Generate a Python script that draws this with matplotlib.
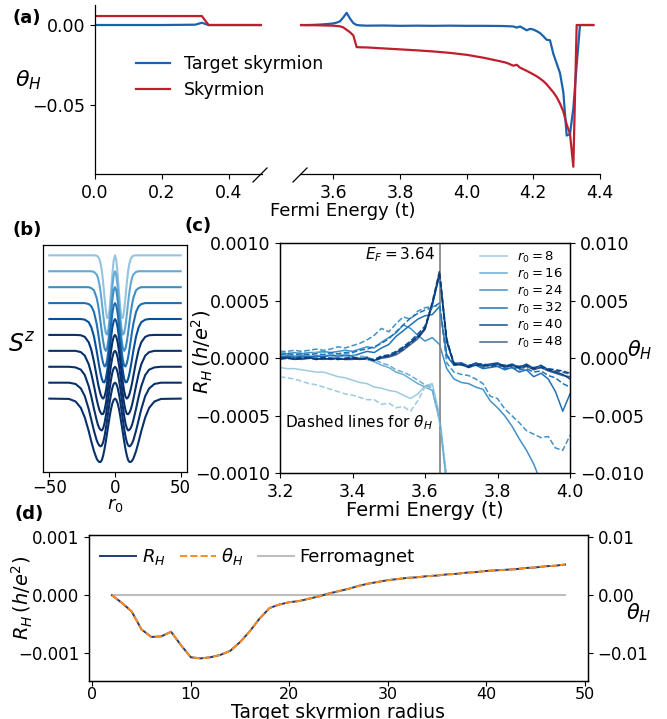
import numpy as np
import matplotlib.pyplot as plt
from matplotlib.lines import Line2D

W, H = 667, 719
plt.rcParams['font.size'] = 12.5
plt.rcParams['mathtext.fontset'] = 'dejavusans'
plt.rcParams['axes.linewidth'] = 0.9

# ---------------- (a) Hall angle vs Fermi energy ----------------
ef_low = [0.0, 0.1, 0.2, 0.3, 0.31, 0.32, 0.33, 0.34, 0.35, 0.4, 0.5]
theta_target_low = [0.0, 0.0, 0.0, 0.0002, 0.0008, 0.0014, 0.0007, 0.0, 0.0, 0.0, 0.0]
theta_skyrm_low = [0.0056, 0.0056, 0.0056, 0.0056, 0.0056, 0.0056, 0.0028, 0.0, 0.0, 0.0, 0.0]

ef_high = [3.50, 3.52, 3.54, 3.56, 3.58, 3.60, 3.61, 3.62, 3.63, 3.64,
           3.65, 3.66, 3.67, 3.68, 3.70, 3.75, 3.80, 3.85, 3.90, 3.95,
           4.00, 4.05, 4.10, 4.12, 4.14, 4.15, 4.16, 4.17, 4.18, 4.19,
           4.20, 4.21, 4.22, 4.23, 4.24, 4.25, 4.26, 4.27, 4.28, 4.29,
           4.30, 4.31, 4.32, 4.33, 4.34, 4.35, 4.36, 4.38]
# values in units of 1e-3
theta_target_high = np.array([
    0.0, 0.0, 0.1, 0.3, 0.6, 1.0, 1.5, 2.3, 4.8, 7.6,
    4.0, 1.2, 0.0, -0.2, -0.4, -0.3, -0.5, -0.4, -0.5, -0.4,
    -0.5, -0.5, -0.6, -0.7, -0.9, -1.6, -0.9, -2.0, -3.3, -2.4,
    -2.8, -3.8, -5.0, -7.0, -9.2, -9.5, -18.0, -24.0, -30.0, -42.0,
    -69.0, -68.0, -52.0, -25.0, 0.0, 0.0, 0.0, 0.0]) * 1e-3
theta_skyrm_high = np.array([
    0.0, -0.1, -0.1, -0.2, -0.3, -0.4, -0.6, -0.8, -1.5, -3.0,
    -4.5, -6.5, -13.8, -13.9, -14.0, -14.6, -15.2, -15.8, -16.5, -17.4,
    -18.6, -20.4, -22.6, -23.6, -25.4, -24.8, -26.6, -27.6, -28.6, -29.7,
    -30.8, -32.0, -33.4, -35.0, -37.0, -39.5, -42.0, -45.0, -49.0, -54.0,
    -62.0, -68.0, -88.5, 0.0, 0.0, 0.0, 0.0, 0.0]) * 1e-3

# ---------------- (b) S^z profiles (half profiles, mirrored) ----------------
r_grid = np.array([0, 1, 2, 3, 4, 5, 6, 7, 8, 9, 10, 11, 12, 13, 14, 16, 18, 20, 23, 26, 30, 35, 50])
sz_profiles = [
    [1, 0.84, 0.42, -0.14, -0.65, -0.96, -0.97, -0.71, -0.30, 0.14, 0.51, 0.75, 0.89, 0.96, 0.99, 1, 1, 1, 1, 1, 1, 1, 1],
    [1, 0.87, 0.53, 0.05, -0.44, -0.82, -0.99, -0.94, -0.70, -0.36, 0.02, 0.36, 0.62, 0.80, 0.90, 0.98, 1, 1, 1, 1, 1, 1, 1],
    [1, 0.90, 0.61, 0.20, -0.25, -0.65, -0.92, -1.0, -0.92, -0.71, -0.42, -0.10, 0.21, 0.47, 0.67, 0.90, 0.97, 1, 1, 1, 1, 1, 1],
    [1, 0.92, 0.68, 0.32, -0.08, -0.48, -0.79, -0.97, -0.99, -0.89, -0.70, -0.45, -0.17, 0.11, 0.36, 0.72, 0.90, 0.97, 1, 1, 1, 1, 1],
    [1, 0.93, 0.73, 0.42, 0.06, -0.32, -0.64, -0.88, -0.99, -0.98, -0.88, -0.71, -0.49, -0.24, 0.01, 0.45, 0.74, 0.90, 0.98, 1, 1, 1, 1],
    [1, 0.94, 0.77, 0.50, 0.17, -0.17, -0.50, -0.77, -0.94, -1.0, -0.96, -0.86, -0.70, -0.51, -0.28, 0.16, 0.53, 0.77, 0.94, 0.99, 1, 1, 1],
    [1, 0.95, 0.79, 0.56, 0.26, -0.07, -0.38, -0.66, -0.87, -0.98, -0.99, -0.94, -0.84, -0.69, -0.51, -0.10, 0.28, 0.58, 0.85, 0.96, 1, 1, 1],
    [1, 0.95, 0.82, 0.60, 0.33, 0.03, -0.27, -0.55, -0.78, -0.93, -1.0, -0.98, -0.92, -0.82, -0.67, -0.32, 0.06, 0.39, 0.74, 0.91, 0.98, 1, 1],
    [1, 0.96, 0.84, 0.64, 0.40, 0.12, -0.17, -0.45, -0.69, -0.87, -0.97, -1.0, -0.97, -0.90, -0.80, -0.51, -0.17, 0.17, 0.58, 0.82, 0.96, 1, 1],
    [1, 0.96, 0.85, 0.68, 0.45, 0.19, -0.08, -0.35, -0.59, -0.79, -0.93, -0.99, -0.99, -0.95, -0.88, -0.65, -0.35, -0.02, 0.41, 0.71, 0.91, 0.99, 1],
]
profile_step = 0.5

# ---------------- (c) R_H and theta_H for several radii ----------------
ef_c = np.linspace(3.2, 4.0, 41)
radii_c = [8, 16, 24, 32, 40, 48]
nan = np.nan
# R_H in units of 1e-4 h/e^2
rh_c = [
    [-0.8, -0.9, -0.9, -1.0, -1.1, -1.2, -1.2, -1.4, -1.6, -1.7, -1.9, -2.1, -2.2, -2.5, -2.6, -2.8, -2.9, -3.2, -3.5, -3.1,
     -2.4, -2.2, -4.9, -10.5, -15.0] + [nan] * 16,
    [0.3, 0.3, 0.2, 0.3, 0.2, 0.2, 0.3, 0.2, 0.1, 0.2, 0.1, 0.0, -0.1, -0.3, -0.6, -0.8, -1.2, -1.4, -1.8, -2.2,
     -2.5, -2.8, -5.4, -11.0, -16.0] + [nan] * 16,
    [0.4, 0.4, 0.5, 0.4, 0.5, 0.5, 0.6, 0.5, 0.6, 0.7, 0.6, 0.8, 1.0, 0.9, 1.4, 1.8, 2.2, 2.9, 2.6, 2.0,
     1.5, 1.8, 1.2, -0.9, -1.8, -2.1, -2.2, -2.5, -2.7, -3.7, -4.3, -5.0, -5.9, -7.0, -8.0, -9.2, -10.8, -12.5, nan, nan, nan],
    [0.1, 0.2, 0.1, 0.2, 0.1, 0.2, 0.1, 0.3, 0.2, 0.3, 0.2, 0.4, 0.6, 0.5, 0.9, 1.2, 1.9, 2.4, 2.9, 3.4,
     3.7, 3.8, 4.5, 0.2, -0.6, -0.5, -0.8, -0.6, -0.9, -0.8, -0.7, -1.0, -0.8, -1.2, -1.0, -1.6, -1.3, -1.8, -2.9, -4.6, -3.1],
    [0.0, 0.1, -0.1, 0.0, 0.1, -0.1, 0.0, -0.1, 0.0, -0.1, 0.0, -0.1, 0.1, -0.2, 0.1, 0.2, 0.5, 0.9, 1.4, 1.9,
     2.6, 4.6, 7.2, 1.4, -0.5, -0.4, -0.7, -0.4, -0.6, -0.5, -0.4, -0.7, -0.5, -0.8, -0.5, -0.9, -0.6, -1.0, -1.2, -1.4, -1.8],
    [-0.1, 0.0, 0.0, -0.1, 0.0, 0.0, -0.1, 0.0, 0.0, -0.1, -0.1, 0.0, 0.0, -0.2, 0.0, 0.1, 0.3, 0.7, 1.2, 1.7,
     2.5, 4.8, 7.5, 1.6, -0.6, -0.5, -0.8, -0.5, -0.7, -0.6, -0.5, -0.8, -0.6, -0.9, -0.7, -1.0, -0.8, -1.1, -1.3, -1.5, -1.6],
]
# theta_H in units of 1e-3
th_c = [
    [-1.6, -1.7, -1.8, -2.0, -2.2, -2.3, -2.5, -2.7, -2.9, -3.1, -3.2, -3.4, -3.6, -3.6, -4.0, -3.9, -4.3, -4.2, -4.6, -3.7,
     -2.5, -2.3, -5.6, -10.2, -15.0] + [nan] * 16,
    [0.5, 0.5, 0.4, 0.5, 0.4, 0.5, 0.5, 0.4, 0.3, 0.4, 0.3, 0.2, 0.1, -0.1, -0.4, -0.6, -1.0, -1.2, -1.5, -1.9,
     -2.3, -2.6, -5.2, -10.8, -15.5] + [nan] * 16,
    [0.6, 0.6, 0.7, 0.6, 0.7, 0.8, 0.7, 0.8, 1.0, 0.9, 1.1, 1.3, 1.6, 2.0, 2.6, 2.3, 3.0, 3.6, 3.4, 4.1,
     4.4, 4.5, 4.6, -0.4, -1.2, -1.4, -1.5, -1.8, -2.2, -3.3, -3.5, -4.4, -5.0, -5.6, -6.3, -6.6, -6.9, -6.8, -7.8, -8.0, -6.7],
    [0.3, 0.4, 0.3, 0.4, 0.3, 0.4, 0.3, 0.5, 0.4, 0.5, 0.5, 0.7, 0.8, 1.0, 1.3, 1.7, 2.3, 2.9, 3.5, 3.9,
     4.2, 4.4, 4.8, 0.3, -0.5, -0.4, -0.7, -0.5, -0.8, -0.6, -0.7, -0.9, -0.8, -1.0, -0.9, -1.2, -1.1, -1.5, -1.7, -2.2, -2.5],
    [0.1, 0.0, 0.0, 0.1, 0.0, 0.0, 0.1, 0.0, -0.1, 0.0, 0.1, 0.0, -0.1, -0.1, 0.2, 0.3, 0.6, 1.0, 1.5, 2.1,
     2.8, 4.7, 7.3, 1.5, -0.4, -0.5, -0.6, -0.5, -0.5, -0.6, -0.5, -0.6, -0.6, -0.7, -0.6, -0.8, -0.7, -0.9, -1.0, -1.1, -1.3],
    [0.0, 0.0, -0.1, 0.0, 0.0, -0.1, 0.0, 0.0, -0.1, 0.0, 0.0, -0.1, 0.0, -0.2, 0.1, 0.2, 0.4, 0.8, 1.3, 1.8,
     2.6, 4.9, 7.6, 1.7, -0.5, -0.6, -0.7, -0.6, -0.6, -0.7, -0.6, -0.7, -0.7, -0.8, -0.7, -0.9, -0.8, -1.0, -1.1, -1.2, -1.4],
]
colors_c = ['#9ecae1', '#6baed6', '#4292c6', '#2171b5', '#08519c', '#08306b']
ef_marker = 3.64

# ---------------- (d) R_H vs target skyrmion radius ----------------
radius_d = list(range(2, 49))
# units of 1e-4 (R_H) and 1e-3 (theta_H)
rh_d = [0.0, -1.3, -2.8, -5.9, -7.2, -7.1, -6.3, -8.6, -10.7, -10.9,
        -10.7, -10.3, -9.6, -8.1, -6.2, -4.0, -2.2, -1.6, -1.2, -1.0,
        -0.6, -0.2, 0.3, 0.7, 1.1, 1.6, 2.0, 2.3, 2.6, 2.8,
        3.0, 3.1, 3.3, 3.4, 3.6, 3.7, 3.9, 4.0, 4.2, 4.3,
        4.4, 4.5, 4.7, 4.8, 5.0, 5.1, 5.3]
theta_d = [0.0, -1.3, -2.8, -5.9, -7.2, -7.1, -6.3, -8.6, -10.7, -10.9,
           -10.7, -10.3, -9.6, -8.1, -6.2, -4.0, -2.2, -1.6, -1.2, -1.0,
           -0.6, -0.2, 0.3, 0.7, 1.1, 1.6, 2.0, 2.3, 2.6, 2.8,
           3.0, 3.1, 3.3, 3.4, 3.6, 3.7, 3.9, 4.0, 4.2, 4.3,
           4.4, 4.5, 4.7, 4.8, 5.0, 5.1, 5.3]
ferro_d = [0.0] * len(radius_d)


def px_box(x0, y0, x1, y1):
    """axes rectangle from pixel corners (origin top-left)"""
    return [x0 / W, 1 - y1 / H, (x1 - x0) / W, (y1 - y0) / H]


def fig_text(x, y, s, **kw):
    fig.text(x / W, 1 - y / H, s, ha=kw.pop('ha', 'center'), va=kw.pop('va', 'center'), **kw)


fig = plt.figure(figsize=(W / 100, H / 100), dpi=100)

# ---- panel (a): broken x axis ----
blue, red = '#1a62ae', '#be1e2d'
ax_lo = fig.add_axes(px_box(95, 5, 262, 174))
ax_hi = fig.add_axes(px_box(300, 5, 600, 174))
ax_lo.plot(ef_low, theta_target_low, color=blue, lw=1.6)
ax_lo.plot(ef_low, theta_skyrm_low, color=red, lw=1.6)
l1, = ax_hi.plot(ef_high, theta_target_high, color=blue, lw=1.6, label='Target skyrmion')
l2, = ax_hi.plot(ef_high, theta_skyrm_high, color=red, lw=1.6, label='Skyrmion')
for ax in (ax_lo, ax_hi):
    ax.set_ylim(-0.093, 0.0125)
    ax.spines[['top', 'right']].set_visible(False)
ax_lo.set_xlim(0, 0.5)
ax_lo.set_xticks([0.0, 0.2, 0.4])
ax_lo.set_yticks([0.0, -0.05])
ax_hi.set_xlim(3.5, 4.4)
ax_hi.set_xticks([3.6, 3.8, 4.0, 4.2, 4.4])
ax_hi.spines['left'].set_visible(False)
ax_hi.set_yticks([])
for x0 in (253, 293):
    fig.add_artist(Line2D([x0 / W, (x0 + 14) / W], [1 - 182 / H, 1 - 168 / H], color='k', lw=0.9))
fig.legend(handles=[l1, l2], loc='upper left', bbox_to_anchor=(120 / W, 1 - 39 / H),
           frameon=False, fontsize=12.5)
fig_text(28, 80, r'$\theta_H$', fontsize=16)
fig_text(343, 211, 'Fermi Energy (t)', fontsize=13)
fig_text(27, 18, '(a)', fontsize=13, fontweight='bold')

# ---- panel (b): S^z profiles ----
ax_b = fig.add_axes(px_box(42.7, 245, 187.3, 472.3))
x_full = np.concatenate([-r_grid[::-1], r_grid[1:]])
for k, prof in enumerate(sz_profiles):
    prof = np.asarray(prof, dtype=float)
    y_full = np.concatenate([prof[::-1], prof[1:]]) - profile_step * k
    ax_b.plot(x_full, y_full, color=plt.cm.Blues(min(1.0, 0.4 + 0.12 * k)), lw=1.5)
ax_b.set_xticks([-50, 0, 50])
ax_b.set_yticks([])
ax_b.tick_params(labelsize=12, pad=1.5)
fig_text(22, 345, r'$S^z$', fontsize=17)
fig_text(115, 505, r'$r_0$', fontsize=13)
fig_text(27, 230, '(b)', fontsize=13, fontweight='bold')

# ---- panel (c): R_H (solid) and theta_H (dashed) ----
ax_c = fig.add_axes(px_box(280, 243.3, 570, 473.3))
ax_c2 = ax_c.twinx()
for r0, rh, th, c in zip(radii_c, rh_c, th_c, colors_c):
    alpha = 0.75 if r0 == 48 else 1.0
    ax_c.plot(ef_c, np.array(rh) * 1e-4, color=c, lw=1.1, alpha=alpha, label=rf'$r_0 = {r0}$')
    ax_c2.plot(ef_c, np.array(th) * 1e-3, color=c, lw=1.1, alpha=alpha, ls='--')
ax_c.axvline(ef_marker, color='gray', lw=1.2)
ax_c.set_xlim(3.2, 4.0)
ax_c.set_ylim(-0.001, 0.001)
ax_c2.set_ylim(-0.01, 0.01)
ax_c.set_xticks([3.2, 3.4, 3.6, 3.8, 4.0])
ax_c.set_yticks([-0.001, -0.0005, 0, 0.0005, 0.001])
ax_c2.set_yticks([-0.01, -0.005, 0, 0.005, 0.01])
ax_c.text(3.628, 0.0009, r'$E_F = 3.64$', ha='right', va='center', fontsize=11)
ax_c.text(3.214, -0.00056, r'Dashed lines for $\theta_H$', ha='left', va='center', fontsize=11)
ax_c.legend(loc='upper right', frameon=False, fontsize=9.5, labelspacing=0.15,
            borderaxespad=0.1, handlelength=2.0)
fig_text(202, 352, r'$R_H\,(h/e^2)$', fontsize=14, rotation=90)
fig_text(640, 350, r'$\theta_H$', fontsize=15)
fig_text(425, 510, 'Fermi Energy (t)', fontsize=14)
fig_text(198, 226, '(c)', fontsize=13, fontweight='bold')

# ---- panel (d): radius dependence ----
ax_d = fig.add_axes(px_box(89.3, 535, 587.7, 681))
ax_d2 = ax_d.twinx()
lf, = ax_d.plot(radius_d, ferro_d, color='#bdbdbd', lw=1.5, label='Ferromagnet')
lr, = ax_d.plot(radius_d, np.array(rh_d) * 1e-4, color='#1f3b78', lw=1.4, label=r'$R_H$')
lt, = ax_d2.plot(radius_d, np.array(theta_d) * 1e-3, color='#ff8c1a', lw=1.4, ls='--', label=r'$\theta_H$')
ax_d.set_ylim(-0.00148, 0.00104)
ax_d2.set_ylim(-0.0148, 0.0104)
ax_d.set_yticks([-0.001, 0, 0.001])
ax_d2.set_yticks([-0.01, 0, 0.01])
ax_d.set_xticks([0, 10, 20, 30, 40, 50])
ax_d.tick_params(labelsize=12)
ax_d2.tick_params(labelsize=12)
ax_d.tick_params(axis='x', labelsize=11.5, pad=0.8)
ax_d.legend(handles=[lr, lt, lf], loc='upper left', ncol=3, frameon=False, fontsize=13,
            borderaxespad=0.2, handletextpad=0.3, columnspacing=0.8, handlelength=2.0)
fig_text(22, 598, r'$R_H\,(h/e^2)$', fontsize=14, rotation=90)
fig_text(639, 613, r'$\theta_H$', fontsize=15)
fig_text(338, 713, 'Target skyrmion radius', fontsize=13.5)
fig_text(29, 514, '(d)', fontsize=13, fontweight='bold')

fig.savefig('out.png', dpi=100)
